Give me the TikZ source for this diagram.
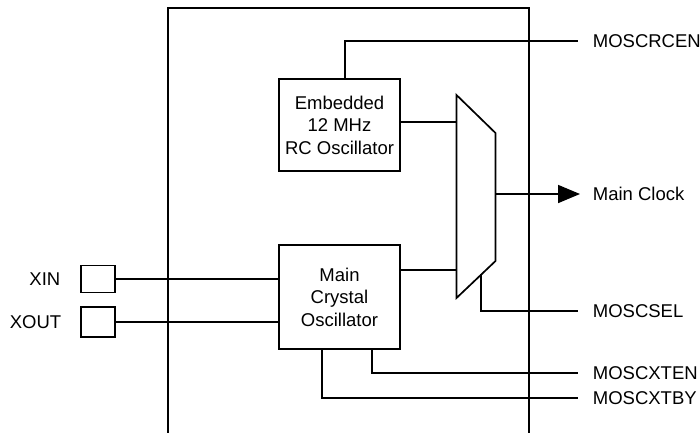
\documentclass[tikz,border=0pt]{standalone}
\usepackage{fontspec}
\setmainfont{Liberation Sans}
\usetikzlibrary{arrows.meta,positioning,calc}

\begin{document}
\begin{tikzpicture}[
    x=1pt, y=-1pt,
    font=\fontsize{18.5}{22.5}\selectfont,
    line width=1.7pt,
    blk/.style={rectangle, draw, line width=1.7pt,
      minimum width=121pt, align=center, inner sep=2pt},
    pad/.style={rectangle, draw, line width=1.7pt,
      minimum width=34pt, inner sep=0pt},
    sig/.style={anchor=west, inner sep=0pt},
    pin/.style={inner sep=0pt},
    thinwire/.style={line width=1.25pt}
  ]
  \useasboundingbox (0,0) rectangle (700,432);
  % device outline
  \draw (168,445) |- (529,8) -- (529,445);
  % oscillators
  \node[blk, minimum height=92pt] (rc) at (339.5,125) {Embedded\\12 MHz\\RC Oscillator};
  \node[blk, minimum height=104pt] (xtal) at (339.5,297) {Main\\Crystal\\Oscillator};
  % clock multiplexer
  \coordinate (m1) at (456.5,95);
  \coordinate (m2) at (495.5,133);
  \coordinate (m3) at (495.5,261);
  \coordinate (m4) at (456.5,298);
  \draw (m1) -- (m2) -- (m3) -- (m4) -- cycle;
  \coordinate (muxa) at (456.5,122);
  \coordinate (muxb) at (456.5,270);
  \coordinate (muxo) at (495.5,194);
  \coordinate (muxs) at (481,274);
  % pads
  \node[pad, minimum height=27pt] (xinp) at (98,279) {};
  \node[pad, minimum height=30pt] (xoutp) at (98,322) {};
  \node[pin, left=19pt of xinp] (xin) {XIN};
  \node[pin, left=18pt of xoutp] (xout) {XOUT};
  % signal labels
  \node[sig] (rcen) at (592,41) {MOSCRCEN};
  \node[sig] (clk) at (592,194) {Main Clock};
  \node[sig] (sel) at (592,311) {MOSCSEL};
  \node[sig] (xten) at (592,373) {MOSCXTEN};
  \node[sig] (xtby) at (592,398) {MOSCXTBY};
  % connections
  \draw[thinwire] (xinp.east) -- (xinp.east -| xtal.west);
  \draw[thinwire] (xoutp.east) -- (xoutp.east -| xtal.west);
  \draw (rc.east |- muxa) -- (muxa);
  \draw (xtal.east |- muxb) -- (muxb);
  \draw[-{Triangle[length=22pt,width=18pt]}] (muxo) -- ([xshift=-12pt]clk.west);
  \draw ([xshift=5.5pt]rc.north) |- ([xshift=-14pt]rcen.west);
  \draw (muxs) |- ([xshift=-14pt]sel.west);
  \draw ([xshift=32.5pt]xtal.south) |- ([xshift=-14pt]xten.west);
  \draw ([xshift=-17.5pt]xtal.south) |- ([xshift=-14pt]xtby.west);
\end{tikzpicture}
\end{document}
